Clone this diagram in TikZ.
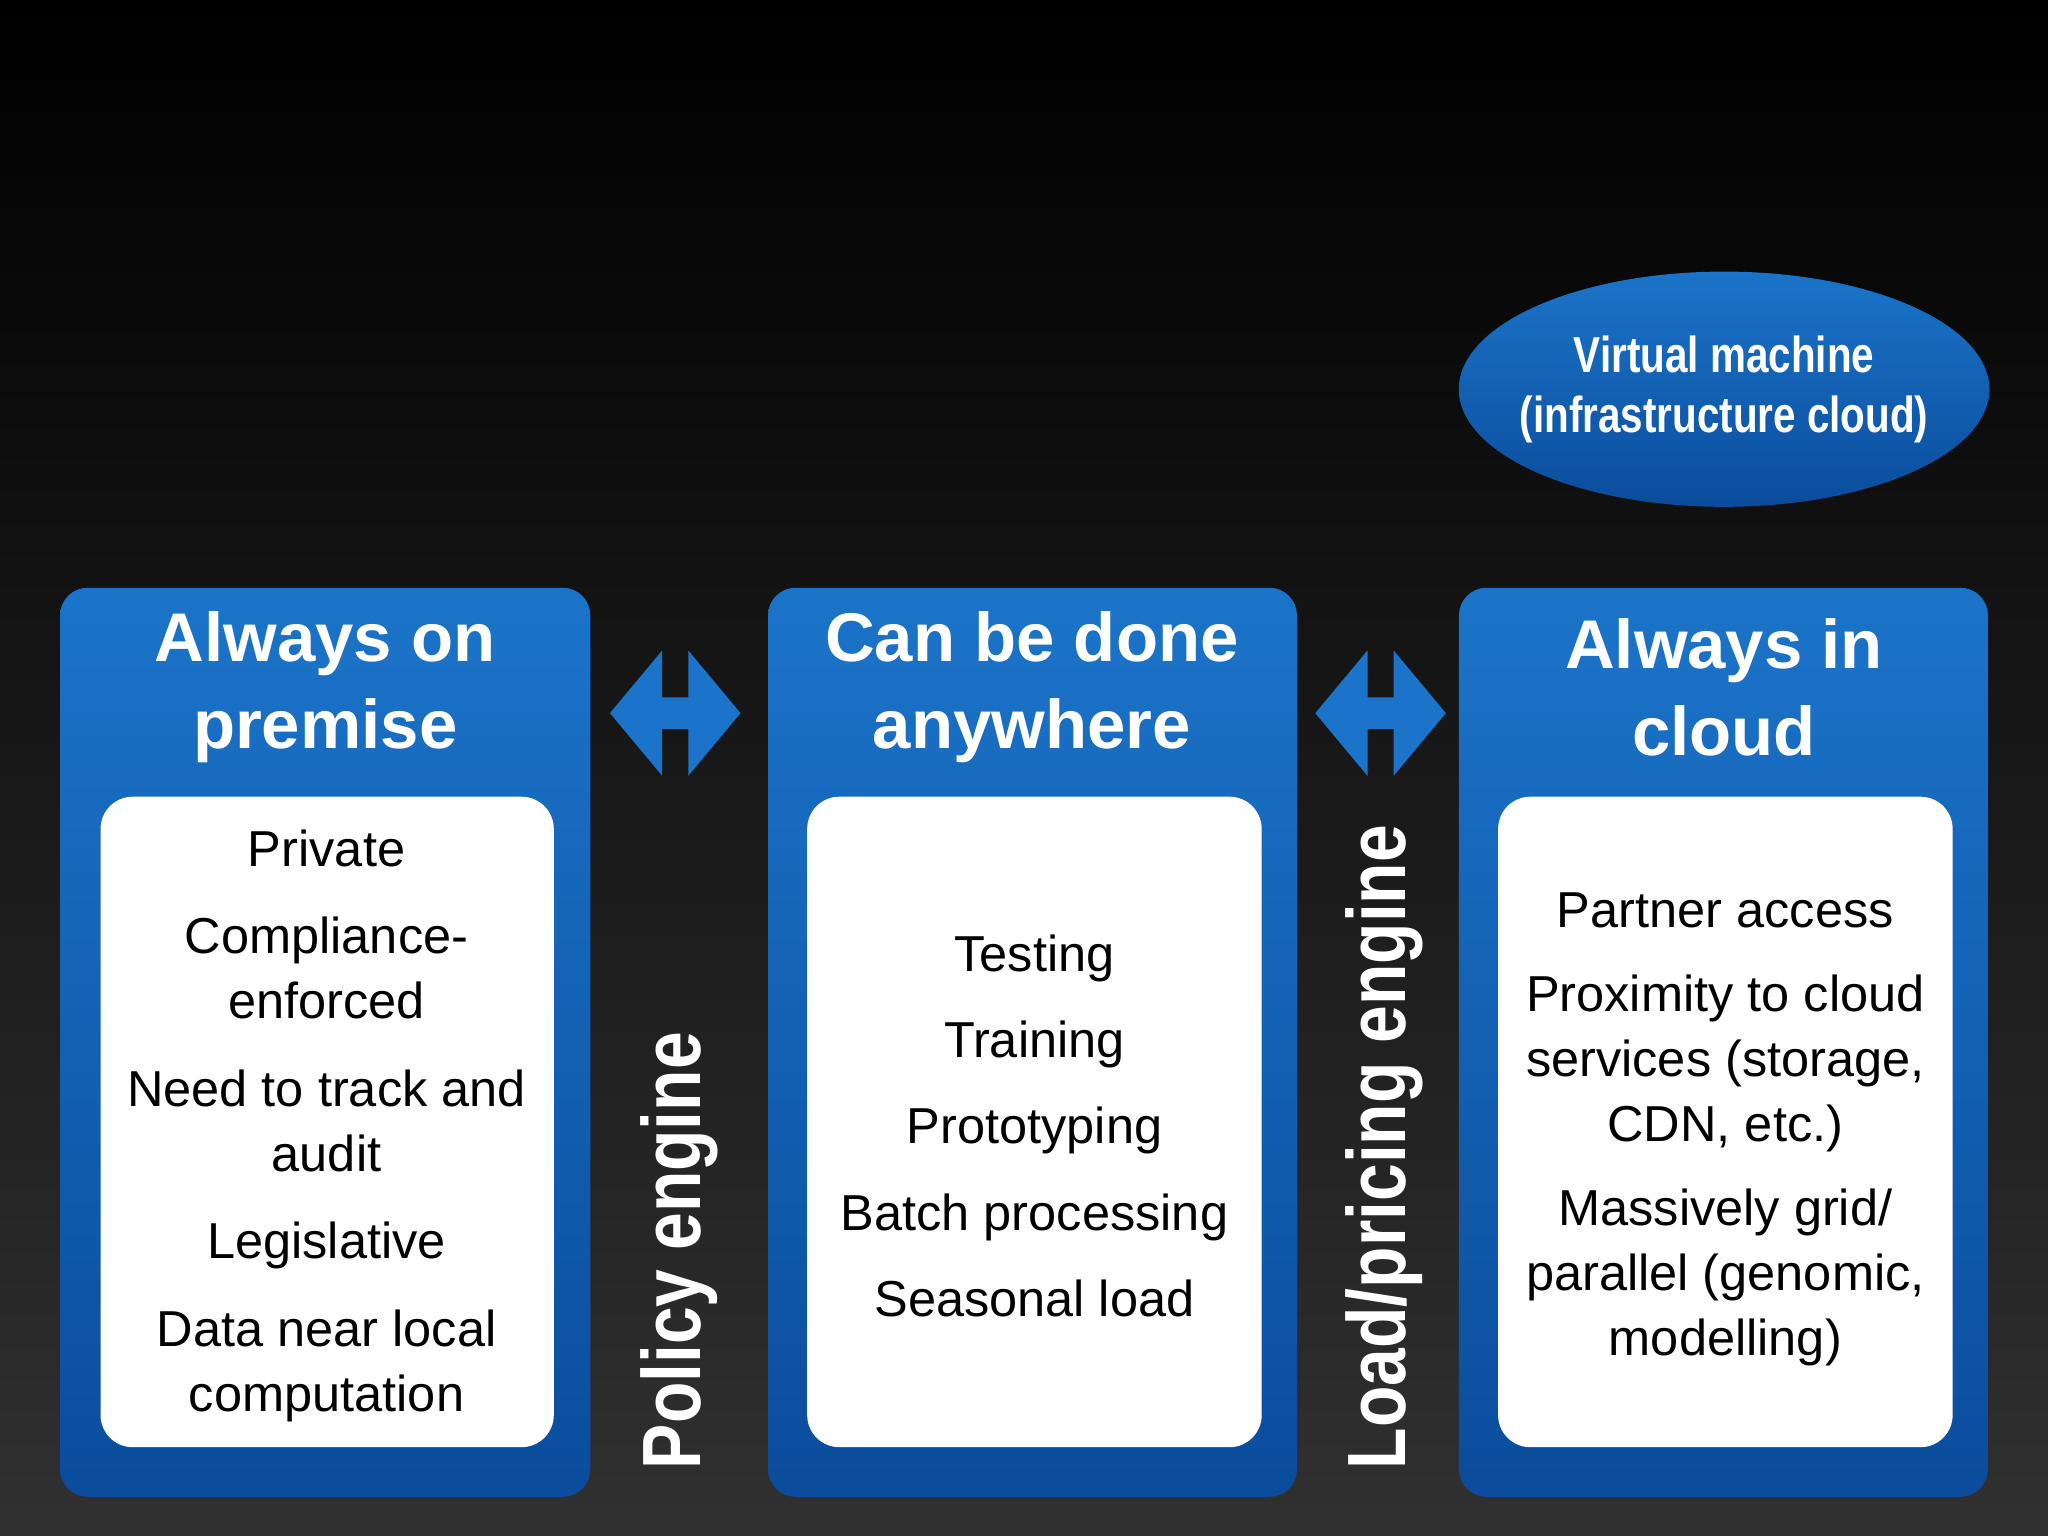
\documentclass[tikz,border=0pt]{standalone}
\usepackage{fontspec}
\setmainfont{Liberation Sans}
\usetikzlibrary{shapes.geometric}
\definecolor{btop}{HTML}{1B74C9}
\definecolor{bbot}{HTML}{0B4C9C}
\begin{document}
\begin{tikzpicture}[x=0.01cm,y=-0.01cm,
  panel/.style={rounded corners=6pt, top color=btop, bottom color=bbot, draw=none},
  inner/.style={rounded corners=7pt, fill=white, draw=none},
  title/.style={text=white, font=\fontsize{15}{19}\selectfont\bfseries, align=center},
  body/.style={text=black, font=\fontsize{11}{14.2}\selectfont, align=center},
  side/.style={text=white, font=\fontsize{18}{20}\selectfont\bfseries, rotate=90, xscale=0.82},
  darr/.style={fill=btop, draw=none}]
\useasboundingbox (0,0) rectangle (1568,1176);
\shade[top color=black, bottom color=gray!38!black] (0,0) rectangle (1568,1176);
% panels
\path[panel] (46,450) rectangle (452,1146);
\path[panel] (588,450) rectangle (993,1146);
\path[panel] (1117,450) rectangle (1522,1146);
\path[inner] (77,610) rectangle (424,1108);
\path[inner] (618,610) rectangle (966,1108);
\path[inner] (1147,610) rectangle (1495,1108);
\node[title] (t1) at (249,526) {Always on\\premise};
\node[title] (t2) at (790,526) {Can be done\\anywhere};
\node[title] (t3) at (1320,526) {Always in\\cloud};
\node[body] (b1) at (250,862) {Private\\[0.17cm]Compliance-\\enforced\\[0.17cm]Need to track and\\audit\\[0.17cm]Legislative\\[0.17cm]Data near local\\computation};
\node[body] (b2) at (792,862) {Testing\\[0.16cm]Training\\[0.16cm]Prototyping\\[0.16cm]Batch processing\\[0.16cm]Seasonal load};
\node[body] (b3) at (1321,865) {Partner access\\[0.14cm]Proximity to cloud\\services (storage,\\CDN, etc.)\\[0.14cm]Massively grid/\\parallel (genomic,\\modelling)};
\foreach \cx in {517,1057}{
  \path[darr,shift={(\cx,546)}] (-50,0) -- (-10,-48) -- (-10,-12) -- (10,-12) -- (10,-48) -- (50,0) -- (10,48) -- (10,12) -- (-10,12) -- (-10,48) -- cycle;
}
\node[side, anchor=west] (p1) at (520,1135) {Policy engine};
\node[side, anchor=west] (p2) at (1060,1135) {Load/pricing engine};
\node[ellipse, minimum width=4.06cm, minimum height=1.8cm, top color=btop, bottom color=bbot, draw=none] (vm) at (1320,298) {};
\node[text=white, font=\fontsize{11}{13}\selectfont\bfseries, align=center, xscale=0.8] (vmt) at (1320,298) {Virtual machine\\(infrastructure cloud)};
\end{tikzpicture}
\end{document}
